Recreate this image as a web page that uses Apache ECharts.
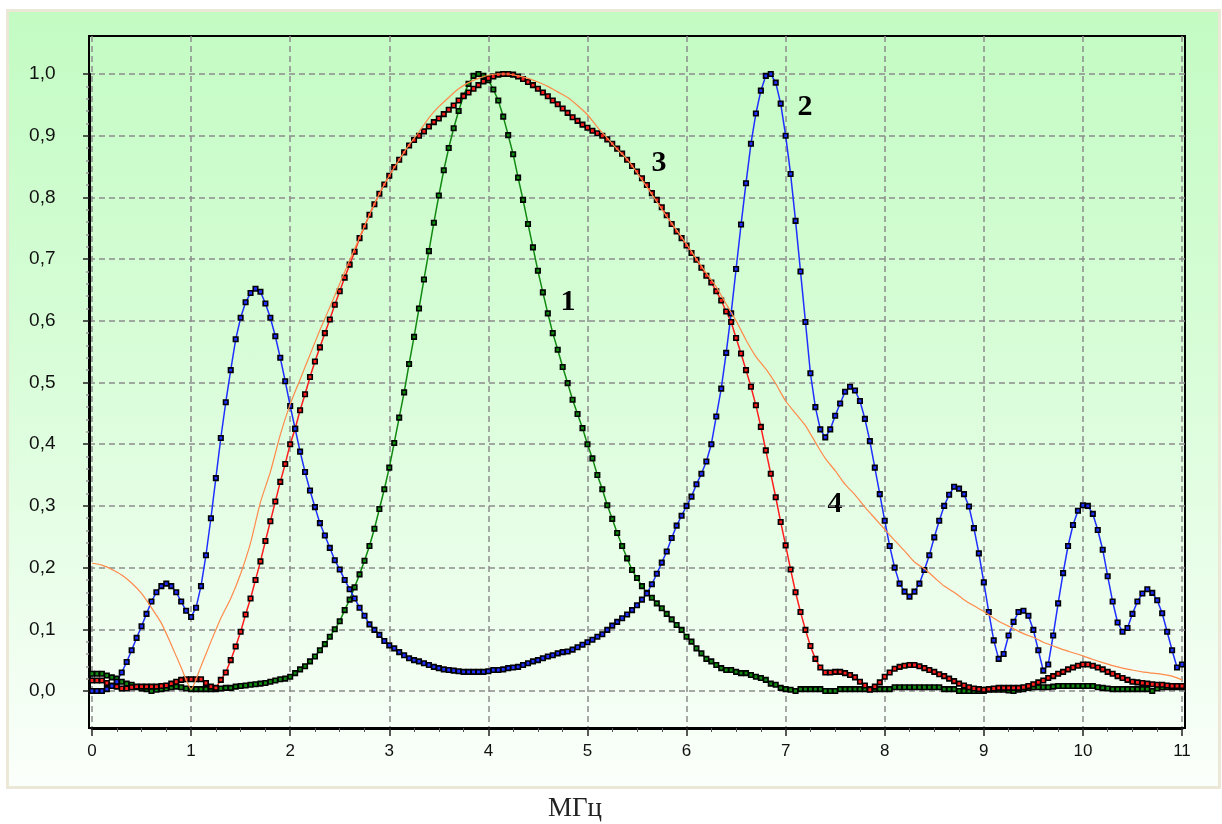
<!DOCTYPE html>
<html>
<head>
<meta charset="utf-8">
<script src="https://cdn.jsdelivr.net/npm/echarts@6/dist/echarts.min.js"></script>
<style>
  html, body { margin: 0; padding: 0; background: #ffffff; }
  #panel { position: absolute; left: 6px; top: 9px; width: 1215px; height: 780px; box-sizing: border-box;
           border: 3px solid #ebe8d8; background: linear-gradient(to bottom, #c3fbc3 0%, #d8fdd8 45%, #fbfffb 100%); }
  #chart { position: absolute; left: 0; top: 0; width: 1222px; height: 824px; }
</style>
</head>
<body>
<div id="panel"></div>
<div id="chart"></div>
<script>
// ---- data (frequency in MHz, normalized amplitude) ----
const freqStep = 0.05;      // sampling step of curves 1-3
const curve4Step = 0.1;     // sampling step of curve 4
const xTickLabels = ['0','1','2','3','4','5','6','7','8','9','10','11'];
const yTickLabels = ['0,0','0,1','0,2','0,3','0,4','0,5','0,6','0,7','0,8','0,9','1,0'];
const curveLabels = ['1', '2', '3', '4'];
const axisTitle = 'МГц';

// curve 1 (green)
const curve1 = [
  .028,.028,.028,.025,.022,.020,.015,.012,.010,.006,.004,.003,.000,.002,.003,.004,.006,.007,.006,.004,
  .003,.003,.003,.003,.003,.003,.004,.005,.005,.007,.008,.009,.010,.011,.012,.013,.015,.017,.019,.020,
  .023,.029,.035,.040,.048,.056,.066,.076,.088,.100,.113,.131,.148,.168,.189,.211,.235,.263,.295,.327,
  .362,.402,.443,.484,.530,.574,.620,.667,.713,.759,.803,.844,.880,.912,.940,.965,.984,.997,1.000,.997,
  .990,.975,.957,.931,.901,.870,.832,.796,.757,.719,.681,.646,.612,.580,.553,.525,.499,.472,.449,.426,
  .400,.377,.350,.327,.301,.279,.256,.235,.215,.196,.183,.170,.159,.151,.142,.134,.125,.116,.107,.099,
  .088,.080,.069,.061,.052,.048,.042,.037,.034,.034,.031,.029,.029,.026,.023,.021,.018,.012,.010,.005,
  .003,.002,.000,.003,.003,.003,.003,.003,.000,.000,.000,.003,.003,.003,.003,.003,.003,.003,.003,.003,
  .003,.003,.006,.006,.006,.006,.006,.006,.006,.006,.006,.006,.003,.003,.003,.000,.000,.000,.000,.000,
  .000,.002,.002,.002,.002,.001,.000,.002,.003,.005,.006,.006,.006,.006,.007,.008,.008,.008,.008,.008,
  .008,.008,.008,.006,.005,.004,.003,.003,.003,.003,.003,.003,.003,.003,.000,.004,.006,.006,.006,.006,
  .006
];

// curve 2 (blue)
const curve2 = [
  .000,.000,.000,.003,.008,.015,.030,.047,.066,.086,.105,.125,.145,.160,.170,.174,.170,.160,.145,.130,
  .120,.135,.170,.220,.280,.345,.410,.468,.520,.570,.605,.630,.645,.652,.647,.628,.605,.575,.540,.502,
  .462,.425,.388,.355,.325,.298,.272,.252,.232,.212,.197,.180,.165,.150,.135,.122,.108,.099,.091,.081,
  .074,.069,.063,.058,.053,.050,.048,.045,.042,.039,.037,.035,.034,.033,.032,.031,.031,.031,.031,.031,
  .032,.034,.034,.035,.037,.038,.039,.042,.045,.048,.050,.053,.056,.058,.061,.063,.064,.067,.071,.075,
  .079,.083,.088,.092,.099,.106,.112,.118,.124,.131,.139,.148,.158,.173,.190,.208,.226,.248,.268,.284,
  .300,.315,.335,.352,.372,.400,.445,.490,.548,.612,.684,.756,.823,.887,.936,.973,.997,1.000,.986,.952,
  .900,.838,.762,.680,.598,.515,.460,.424,.411,.424,.446,.466,.485,.493,.487,.470,.441,.405,.362,.319,
  .276,.235,.200,.174,.161,.153,.161,.174,.196,.220,.249,.276,.300,.318,.331,.328,.319,.299,.264,.223,
  .176,.128,.082,.052,.060,.090,.112,.128,.130,.122,.099,.066,.033,.043,.090,.142,.191,.235,.269,.292,
  .301,.300,.287,.261,.229,.186,.145,.111,.096,.102,.125,.145,.158,.165,.159,.147,.126,.096,.066,.038,
  .043
];

// curve 3 (red)
const curve3 = [
  .017,.017,.017,.013,.009,.007,.004,.004,.006,.007,.007,.007,.007,.007,.008,.009,.012,.015,.018,.019,
  .019,.019,.019,.013,.007,.005,.018,.030,.050,.072,.096,.124,.150,.180,.210,.243,.275,.307,.339,.368,
  .400,.425,.455,.481,.509,.534,.557,.580,.602,.626,.648,.670,.691,.712,.734,.753,.772,.789,.806,.821,
  .835,.849,.861,.873,.884,.893,.900,.907,.915,.922,.928,.935,.942,.949,.957,.964,.970,.976,.982,.988,
  .993,.996,.999,1.000,1.000,.999,.996,.992,.987,.982,.976,.970,.964,.957,.951,.944,.937,.930,.924,.918,
  .913,.908,.904,.900,.894,.887,.879,.871,.861,.851,.842,.831,.820,.807,.796,.784,.771,.757,.745,.734,
  .722,.710,.699,.686,.673,.662,.648,.633,.615,.598,.572,.547,.520,.493,.463,.428,.390,.352,.314,.274,
  .236,.197,.160,.128,.099,.073,.052,.038,.030,.030,.031,.031,.029,.026,.022,.015,.009,.002,.007,.014,
  .023,.030,.036,.039,.041,.042,.042,.040,.037,.034,.031,.027,.024,.020,.016,.012,.009,.006,.004,.003,
  .002,.003,.004,.005,.005,.005,.005,.005,.006,.008,.011,.014,.017,.021,.024,.028,.031,.035,.038,.041,
  .043,.043,.041,.038,.035,.031,.028,.024,.021,.018,.015,.014,.013,.012,.011,.010,.010,.009,.008,.008,
  .008
];

// curve 4 (orange, thin)
const curve4 = [
  .207,.204,.197,.188,.175,.158,.135,.110,.075,.038,
  .003,.040,.080,.118,.150,.190,.240,.306,.355,.415,
  .465,.505,.545,.585,.622,.660,.698,.735,.772,.806,
  .835,.861,.885,.906,.929,.947,.962,.976,.986,.993,
  .998,1.000,1.000,.997,.993,.987,.980,.971,.962,.949,
  .934,.914,.896,.878,.862,.840,.817,.793,.769,.747,
  .724,.700,.677,.655,.627,.600,.569,.542,.522,.498,
  .470,.450,.430,.403,.377,.357,.335,.318,.298,.280,
  .262,.244,.227,.209,.198,.184,.170,.160,.148,.138,
  .129,.118,.109,.101,.093,.087,.079,.073,.067,.062,
  .057,.051,.046,.041,.037,.034,.031,.029,.027,.024,
  .018
];

function toPairs(values, step) {
  return values.map((v, i) => [Math.round(i * step * 100) / 100, v]);
}

const chart = echarts.init(document.getElementById('chart'), null, { renderer: 'canvas' });

const gridLine = { show: true, lineStyle: { color: '#8c8c8c', width: 1.5, type: [6, 4] } };

function markerSeries(name, values, color) {
  return {
    name: name, type: 'line', xAxisIndex: 1, yAxisIndex: 1,
    data: toPairs(values, freqStep),
    symbol: 'rect', symbolSize: 4.5, showSymbol: true,
    lineStyle: { color: color, width: 1.5 },
    itemStyle: { color: color, borderColor: '#000', borderWidth: 1.6 },
    emphasis: { disabled: true }, silent: true, z: 3
  };
}

const labelFont = 'bold 30px "Liberation Serif"';

const option = {
  animation: false,
  backgroundColor: 'transparent',
  grid: [
    { left: 89, top: 36, width: 1096, height: 692, show: true, borderColor: '#000', borderWidth: 2, backgroundColor: 'transparent' },
    { left: 92, top: 36, width: 1090, height: 692 },
    { left: 89, top: 74, width: 1096, height: 617 }
  ],
  xAxis: [
    { gridIndex: 0, type: 'value', show: false, min: 0, max: 1 },
    { gridIndex: 1, type: 'value', min: 0, max: 11, interval: 1,
      axisLine: { show: true, onZero: false, lineStyle: { color: '#000', width: 3 } },
      axisTick: { show: true, length: 8, lineStyle: { color: '#222', width: 1.5 } },
      minorTick: { show: true, splitNumber: 4, length: 4, lineStyle: { color: '#555', width: 1 } },
      axisLabel: { margin: 15, color: '#111', fontSize: 17, fontFamily: 'Liberation Sans',
        formatter: v => xTickLabels[Math.round(v)] },
      splitLine: gridLine
    },
    { gridIndex: 2, type: 'value', show: false, min: 0, max: 1 }
  ],
  yAxis: [
    { gridIndex: 0, type: 'value', show: false, min: 0, max: 1 },
    { gridIndex: 1, type: 'value', show: false, min: -0.06, max: 1.0616, splitLine: { show: false } },
    { gridIndex: 2, type: 'value', min: 0, max: 1, interval: 0.1, offset: 22.5,
      axisLine: { show: true, lineStyle: { color: '#000', width: 3 } },
      axisTick: { show: true, length: 6, lineStyle: { color: '#222', width: 1.5 } },
      minorTick: { show: true, splitNumber: 5, length: 3, lineStyle: { color: '#999', width: 1.5 } },
      axisLabel: { margin: 11, color: '#111', fontSize: 19, fontFamily: 'Liberation Sans',
        formatter: v => yTickLabels[Math.round(v * 10)] },
      splitLine: gridLine
    }
  ],
  series: [
    markerSeries('1', curve1, '#118a11'),
    markerSeries('3', curve3, '#ff1e1e'),
    markerSeries('2', curve2, '#1f2fff'),
    {
      name: '4', type: 'line', xAxisIndex: 1, yAxisIndex: 1,
      data: toPairs(curve4, curve4Step),
      showSymbol: false, symbol: 'none', smooth: 0.2,
      lineStyle: { color: '#ff8a4a', width: 1.2 },
      emphasis: { disabled: true }, silent: true, z: 4
    }
  ],
  graphic: [
    { type: 'text', style: { text: curveLabels[0], x: 568, y: 302, align: 'center', verticalAlign: 'middle', font: labelFont, fill: '#000' } },
    { type: 'text', style: { text: curveLabels[1], x: 805, y: 107, align: 'center', verticalAlign: 'middle', font: labelFont, fill: '#000' } },
    { type: 'text', style: { text: curveLabels[2], x: 659, y: 163, align: 'center', verticalAlign: 'middle', font: labelFont, fill: '#000' } },
    { type: 'text', style: { text: curveLabels[3], x: 835, y: 504, align: 'center', verticalAlign: 'middle', font: labelFont, fill: '#000' } },
    { type: 'text', style: { text: axisTitle, x: 575, y: 809, align: 'center', verticalAlign: 'middle', font: '27px "Liberation Serif"', fill: '#222' } }
  ]
};

chart.setOption(option);
</script>
</body>
</html>
